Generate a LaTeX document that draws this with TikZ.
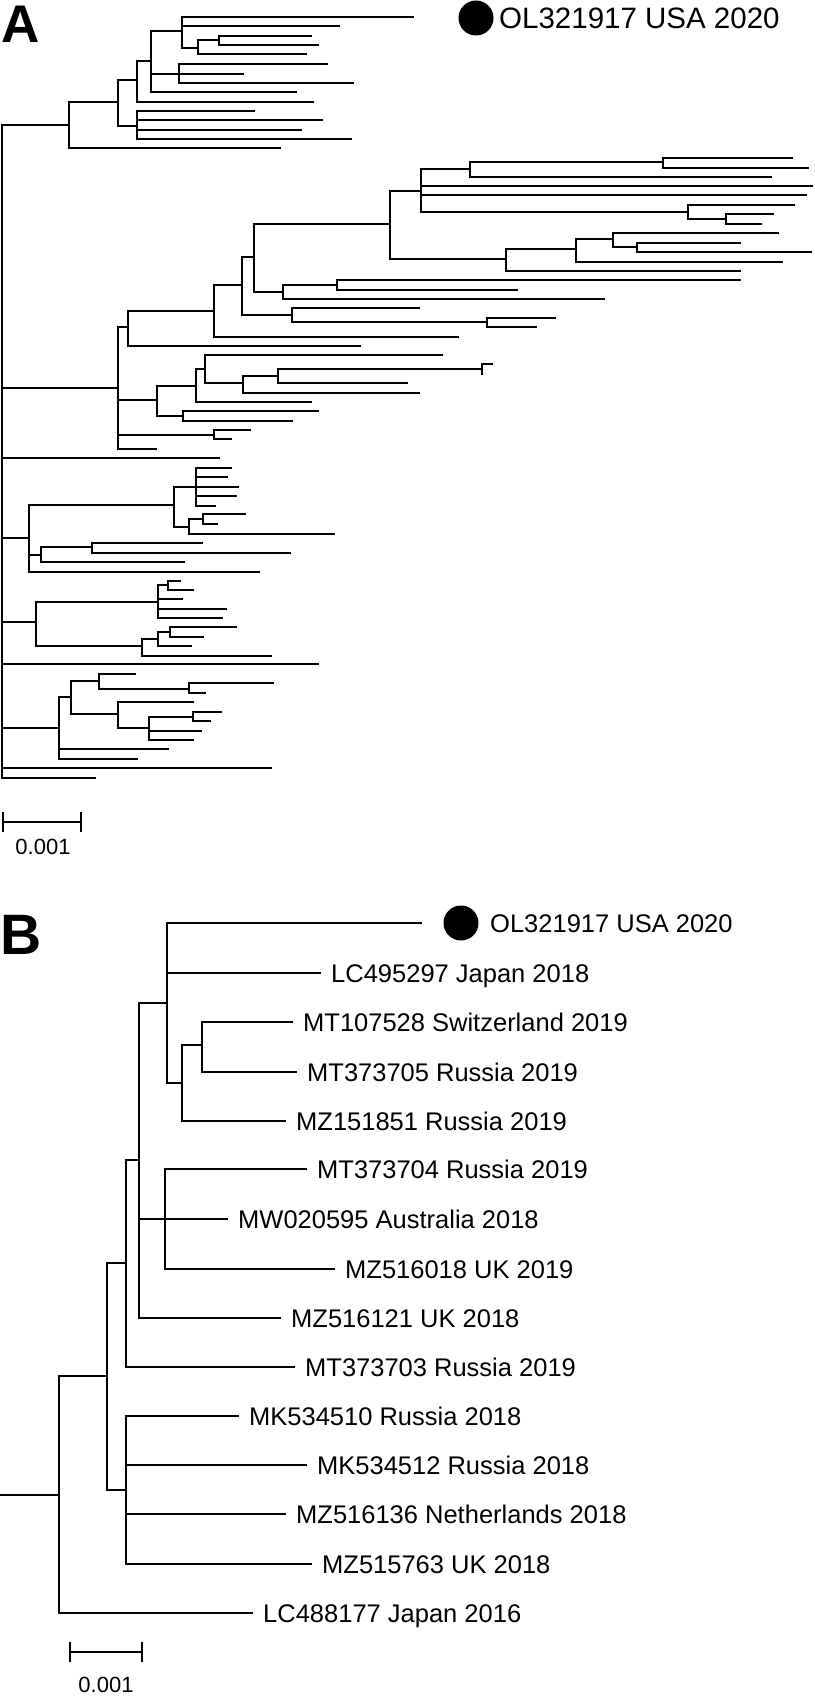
\documentclass[tikz,border=0pt]{standalone}
\usepackage{fontspec}
\setmainfont{Liberation Sans}
\begin{document}
\begin{tikzpicture}[x=1pt,y=-1pt,
  ta/.style={line width=2.4pt},
  tb/.style={line width=2.1pt},
  lab/.style={anchor=base west, inner sep=0pt, xshift=10pt, yshift=-9.1pt, font=\fontsize{25.5}{30}\selectfont},
  scl/.style={anchor=base, inner sep=0pt, font=\fontsize{22}{26}\selectfont},
  dot/.style={circle, fill=black, inner sep=0pt, minimum size=35pt}]
\useasboundingbox (0,0) rectangle (814,1696);
% ---------------- Panel A ----------------
\node[anchor=base west, inner sep=0pt, font=\fontsize{53}{60}\selectfont\bfseries] (letA) at (1,43) {A};
\coordinate (rA) at (2,450);
\coordinate (a1) at (69,125); \coordinate (a2) at (118,102);
\coordinate (a3) at (137,80); \coordinate (a4) at (137,126);
\coordinate (a5) at (151,61); \coordinate (a6) at (182,31);
\coordinate (a7) at (179,74); \coordinate (a8) at (198,48);
\coordinate (a9) at (219,40);
\coordinate (la1) at (281,148); \coordinate (la2) at (314,102);
\coordinate (la3) at (297,92); \coordinate (laOL) at (414,17);
\coordinate (la4) at (340,26); \coordinate (la5) at (307,54);
\coordinate (la6) at (312,36); \coordinate (la7) at (319,45);
\coordinate (la8) at (328,64); \coordinate (la9) at (244,74);
\coordinate (la10) at (354,83); \coordinate (la11) at (255,111);
\coordinate (la12) at (323,120); \coordinate (la13) at (302,130);
\coordinate (la14) at (352,139);
% middle clade
\coordinate (b1) at (118,388); \coordinate (b2) at (128,327);
\coordinate (b3) at (157,400); \coordinate (b4) at (214,435);
\coordinate (b5) at (214,311); \coordinate (b6) at (242,285);
\coordinate (b7) at (254,257); \coordinate (b8) at (292,315);
\coordinate (b9) at (390,224); \coordinate (b10) at (283,292);
\coordinate (b11) at (421,191); \coordinate (b12) at (506,259);
\coordinate (b13) at (470,169); \coordinate (b14) at (688,212);
\coordinate (b15) at (663,162); \coordinate (b16) at (726,219);
\coordinate (b17) at (576,249); \coordinate (b18) at (613,239);
\coordinate (b19) at (637,247); \coordinate (b20) at (337,285);
\coordinate (b21) at (487,322); \coordinate (b22) at (196,386);
\coordinate (b23) at (183,416); \coordinate (b24) at (205,369);
\coordinate (b25) at (243,383); \coordinate (b26) at (278,376);
\coordinate (b27) at (482,369);
\coordinate (lb1) at (157,449); \coordinate (lb2) at (361,346);
\coordinate (lb3) at (459,337); \coordinate (lb4) at (813,186);
\coordinate (lb5) at (807,195); \coordinate (lb6) at (772,177);
\coordinate (lb7) at (793,158); \coordinate (lb8) at (809,168);
\coordinate (lb9) at (795,205); \coordinate (lb10) at (774,214);
\coordinate (lb11) at (762,224); \coordinate (lb12) at (741,271);
\coordinate (lb13) at (783,262); \coordinate (lb14) at (779,233);
\coordinate (lb15) at (741,243); \coordinate (lb16) at (812,252);
\coordinate (lb17) at (605,299); \coordinate (lb18) at (741,280);
\coordinate (lb19) at (518,290); \coordinate (lb20) at (420,308);
\coordinate (lb21) at (556,318); \coordinate (lb22) at (537,327);
\coordinate (lb23) at (312,402); \coordinate (lb24) at (443,355);
\coordinate (lb25) at (420,393); \coordinate (lb26) at (408,383);
\coordinate (lb27) at (493,364); \coordinate (lb28) at (483,374);
\coordinate (lb29) at (319,411); \coordinate (lb30) at (293,421);
\coordinate (lb31) at (251,430); \coordinate (lb32) at (232,439);
\coordinate (lr1) at (220,458);
% clade c
\coordinate (c1) at (29,538); \coordinate (c2) at (174,505);
\coordinate (c3) at (41,555); \coordinate (c4) at (196,487);
\coordinate (c5) at (189,527); \coordinate (c6) at (203,519);
\coordinate (c7) at (92,547);
\coordinate (lc1) at (260,572); \coordinate (lc2) at (232,468);
\coordinate (lc3) at (228,477); \coordinate (lc4) at (239,487);
\coordinate (lc5) at (237,496); \coordinate (lc6) at (216,506);
\coordinate (lc7) at (335,534); \coordinate (lc8) at (246,514);
\coordinate (lc9) at (218,524); \coordinate (lc10) at (185,562);
\coordinate (lc11) at (203,543); \coordinate (lc12) at (291,553);
% clade d
\coordinate (d1) at (36,622); \coordinate (d2) at (158,602);
\coordinate (d3) at (142,646); \coordinate (d4) at (168,585);
\coordinate (d5) at (158,639); \coordinate (d6) at (170,632);
\coordinate (ld1) at (183,599); \coordinate (ld2) at (227,609);
\coordinate (ld3) at (223,618); \coordinate (ld4) at (181,581);
\coordinate (ld5) at (194,590); \coordinate (ld6) at (272,656);
\coordinate (ld7) at (192,646); \coordinate (ld8) at (237,627);
\coordinate (ld9) at (204,637);
\coordinate (lr2) at (319,664);
% clade e
\coordinate (e1) at (59,728); \coordinate (e2) at (71,697);
\coordinate (e3) at (99,681); \coordinate (e4) at (118,714);
\coordinate (e5) at (189,689); \coordinate (e6) at (149,728);
\coordinate (e7) at (193,717);
\coordinate (le1) at (169,749); \coordinate (le2) at (138,759);
\coordinate (le3) at (136,674); \coordinate (le4) at (274,683);
\coordinate (le5) at (206,693); \coordinate (le6) at (194,702);
\coordinate (le7) at (202,731); \coordinate (le8) at (194,740);
\coordinate (le9) at (222,712); \coordinate (le10) at (211,721);
\coordinate (lr3) at (272,768); \coordinate (lr4) at (96,778);

\foreach \p/\c in {rA/a1, a1/a2, a1/la1, a2/a3, a2/a4, a3/a5, a3/la2,
  a5/a6, a5/a7, a5/la3, a6/laOL, a6/la4, a6/a8, a8/a9, a8/la5, a9/la6, a9/la7,
  a7/la8, a7/la9, a7/la10, a4/la11, a4/la12, a4/la13, a4/la14,
  rA/b1, b1/b2, b1/b3, b1/b4, b1/lb1, b2/b5, b2/lb2, b5/b6, b5/lb3,
  b6/b7, b6/b8, b7/b9, b7/b10, b9/b11, b9/b12,
  b11/b13, b11/lb4, b11/lb5, b11/b14, b13/b15, b13/lb6, b15/lb7, b15/lb8,
  b14/lb9, b14/b16, b16/lb10, b16/lb11,
  b12/b17, b12/lb12, b17/b18, b17/lb13, b18/lb14, b18/b19, b19/lb15, b19/lb16,
  b10/b20, b10/lb17, b20/lb18, b20/lb19, b8/lb20, b8/b21, b21/lb21, b21/lb22,
  b3/b22, b3/b23, b22/b24, b22/lb23, b24/lb24, b24/b25, b25/b26, b25/lb25,
  b26/b27, b26/lb26, b27/lb27, b27/lb28, b23/lb29, b23/lb30, b4/lb31, b4/lb32,
  rA/lr1,
  rA/c1, c1/c2, c1/c3, c1/lc1, c2/c4, c2/c5, c4/lc2, c4/lc3, c4/lc4, c4/lc5, c4/lc6,
  c5/c6, c5/lc7, c6/lc8, c6/lc9, c3/c7, c3/lc10, c7/lc11, c7/lc12,
  rA/d1, d1/d2, d1/d3, d2/d4, d2/ld1, d2/ld2, d2/ld3, d4/ld4, d4/ld5,
  d3/d5, d3/ld6, d5/d6, d5/ld7, d6/ld8, d6/ld9,
  rA/lr2,
  rA/e1, e1/e2, e1/le1, e1/le2, e2/e3, e2/e4, e3/le3, e3/e5, e5/le4, e5/le5,
  e4/le6, e4/e6, e6/e7, e6/le7, e6/le8, e7/le9, e7/le10,
  rA/lr3, rA/lr4}
  \draw[ta] (\p) |- (\c);

\node[dot] (dotA) at (476,18) {};
\node[anchor=base west, inner sep=0pt, font=\fontsize{29.5}{34}\selectfont] (labA) at (499,28.5) {OL321917 USA 2020};

\coordinate (sa1) at (3,822); \coordinate (sa2) at (81,822);
\draw[ta] (sa1) -- (sa2);
\draw[ta] ([yshift=10pt]sa1) -- ([yshift=-10pt]sa1);
\draw[ta] ([yshift=10pt]sa2) -- ([yshift=-10pt]sa2);
\node[scl] (scA) at (43,854) {0.001};

% ---------------- Panel B ----------------
\node[anchor=base west, inner sep=0pt, font=\fontsize{57}{64}\selectfont\bfseries] (letB) at (0,954) {B};
\coordinate (rB) at (0,1495);
\coordinate (g1) at (59,1495); \coordinate (g2) at (107,1376);
\coordinate (g3) at (126,1263); \coordinate (g4) at (126,1490);
\coordinate (g5) at (139,1160); \coordinate (g6) at (167,1003);
\coordinate (g7) at (165,1219); \coordinate (g8) at (182,1083);
\coordinate (g9) at (202,1045);
\coordinate (tOL) at (422,923); \coordinate (t1) at (321,973);
\coordinate (t2) at (293,1022); \coordinate (t3) at (297,1072);
\coordinate (t4) at (286,1121); \coordinate (t5) at (307,1169);
\coordinate (t6) at (228,1219); \coordinate (t7) at (335,1269);
\coordinate (t8) at (281,1318); \coordinate (t9) at (295,1367);
\coordinate (t10) at (239,1416); \coordinate (t11) at (307,1465);
\coordinate (t12) at (286,1514); \coordinate (t13) at (312,1564);
\coordinate (t14) at (253,1613);
\coordinate (tOLtext) at (480,923);

\draw[tb] (rB) -- (g1);
\foreach \p/\c in {g1/g2, g1/t14, g2/g3, g2/g4, g3/g5, g3/t9,
  g5/g6, g5/g7, g5/t8, g6/tOL, g6/t1, g6/g8, g8/g9, g8/t4, g9/t2, g9/t3,
  g7/t5, g7/t6, g7/t7, g4/t10, g4/t11, g4/t12, g4/t13}
  \draw[tb] (\p) |- (\c);

\node[dot] (dotB) at (461,923) {};
\node[lab] (nOL) at (tOLtext) {OL321917 USA 2020};
\node[lab] (n1) at (t1) {LC495297 Japan 2018};
\node[lab] (n2) at (t2) {MT107528 Switzerland 2019};
\node[lab] (n3) at (t3) {MT373705 Russia 2019};
\node[lab] (n4) at (t4) {MZ151851 Russia 2019};
\node[lab] (n5) at (t5) {MT373704 Russia 2019};
\node[lab] (n6) at (t6) {MW020595 Australia 2018};
\node[lab] (n7) at (t7) {MZ516018 UK 2019};
\node[lab] (n8) at (t8) {MZ516121 UK 2018};
\node[lab] (n9) at (t9) {MT373703 Russia 2019};
\node[lab] (n10) at (t10) {MK534510 Russia 2018};
\node[lab] (n11) at (t11) {MK534512 Russia 2018};
\node[lab] (n12) at (t12) {MZ516136 Netherlands 2018};
\node[lab] (n13) at (t13) {MZ515763 UK 2018};
\node[lab] (n14) at (t14) {LC488177 Japan 2016};

\coordinate (sb1) at (70,1652); \coordinate (sb2) at (142,1652);
\draw[tb] (sb1) -- (sb2);
\draw[tb] ([yshift=10pt]sb1) -- ([yshift=-10pt]sb1);
\draw[tb] ([yshift=10pt]sb2) -- ([yshift=-10pt]sb2);
\node[scl] (scB) at (106,1692) {0.001};
\end{tikzpicture}
\end{document}
